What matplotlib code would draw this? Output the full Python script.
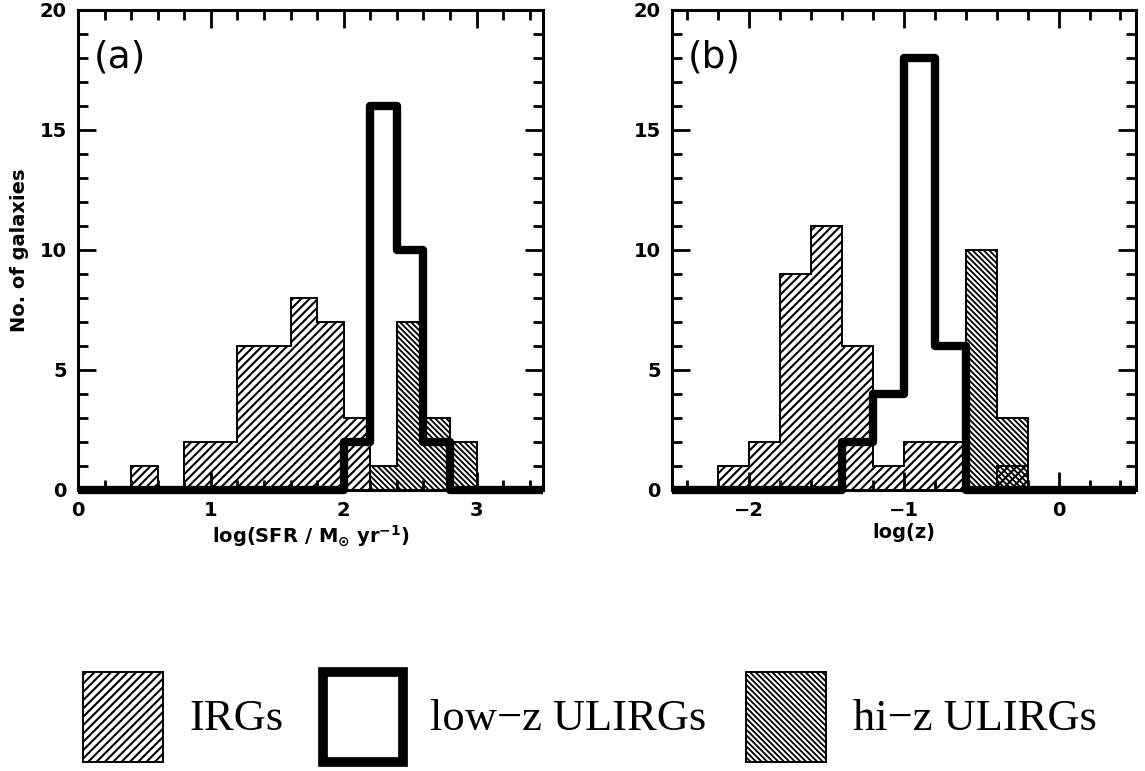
import matplotlib
matplotlib.use("Agg")
import matplotlib.pyplot as plt
from matplotlib.patches import Patch
from matplotlib.ticker import MultipleLocator

plt.rcParams['mathtext.default'] = 'bf'

# panel (a): log(SFR), bins of 0.2
irg_sfr_edges = [0.4, 0.6, 0.8, 1.0, 1.2, 1.4, 1.6, 1.8, 2.0, 2.2]
irg_sfr = [1, 0, 2, 2, 6, 6, 8, 7, 3]
hiz_sfr_edges = [2.2, 2.4, 2.6, 2.8, 3.0]
hiz_sfr = [1, 7, 3, 2]
lowz_sfr_edges = [0.0, 2.0, 2.2, 2.4, 2.6, 2.8, 3.5]
lowz_sfr = [0, 2, 16, 10, 2, 0]

# panel (b): log(z), bins of 0.2
irg_z_edges = [-2.2, -2.0, -1.8, -1.6, -1.4, -1.2, -1.0, -0.8, -0.6, -0.4, -0.2]
irg_z = [1, 2, 9, 11, 6, 1, 2, 2, 0, 1]
hiz_z_edges = [-0.6, -0.4, -0.2]
hiz_z = [10, 3]
lowz_z_edges = [-2.5, -1.4, -1.2, -1.0, -0.8, -0.6, 0.5]
lowz_z = [0, 2, 4, 18, 6, 0]

labels = ['IRGs', 'low\u2212z ULIRGs', 'hi\u2212z ULIRGs']

IRG_HATCH = '////'
HIZ_HATCH = '\\' * 6
IRG_HLW = 1.5
HIZ_HLW = 1.3


def set_hatch_lw(patch, lw):
    if hasattr(patch, 'set_hatch_linewidth'):
        patch.set_hatch_linewidth(lw)
    else:
        patch._hatch_linewidth = lw


fig = plt.figure(figsize=(11.45, 7.71), dpi=100)
ax1 = fig.add_axes([0.0681, 0.3645, 0.4061, 0.6226])
ax2 = fig.add_axes([0.5869, 0.3645, 0.4052, 0.6226])

panels = [
    (ax1, irg_sfr_edges, irg_sfr, hiz_sfr_edges, hiz_sfr, lowz_sfr_edges, lowz_sfr, (0, 3.5), '(a)'),
    (ax2, irg_z_edges, irg_z, hiz_z_edges, hiz_z, lowz_z_edges, lowz_z, (-2.5, 0.5), '(b)'),
]

for ax, ie, iv, he, hv, le, lv, xlim, tag in panels:
    p = ax.stairs(iv, ie, fill=True, facecolor='none', edgecolor='black',
                  hatch=IRG_HATCH, linewidth=1.4, zorder=2)
    set_hatch_lw(p, IRG_HLW)
    p = ax.stairs(hv, he, fill=True, facecolor='none', edgecolor='black',
                  hatch=HIZ_HATCH, linewidth=1.4, zorder=2)
    set_hatch_lw(p, HIZ_HLW)
    ax.stairs(lv, le, fill=False, color='black', linewidth=6,
              joinstyle='round', clip_on=False, zorder=3)
    ax.set_xlim(*xlim)
    ax.set_ylim(0, 20)
    ax.xaxis.set_major_locator(MultipleLocator(1))
    ax.xaxis.set_minor_locator(MultipleLocator(0.2))
    ax.yaxis.set_major_locator(MultipleLocator(5))
    ax.yaxis.set_minor_locator(MultipleLocator(1))
    ax.tick_params(which='both', direction='in', top=True, right=True, width=2)
    ax.tick_params(which='major', length=13, pad=8)
    ax.tick_params(which='minor', length=7)
    for lab in ax.get_xticklabels() + ax.get_yticklabels():
        lab.set_fontweight('bold')
        lab.set_fontsize(14)
    for sp in ax.spines.values():
        sp.set_linewidth(2.2)
    ax.text(0.035, 0.9, tag, transform=ax.transAxes, fontsize=27,
            ha='left', va='center')

ax1.set_xlabel(r'log(SFR / M$_{\odot}$ yr$^{-1}$)', fontsize=14,
               fontweight='bold', labelpad=2)
ax1.set_ylabel('No. of galaxies', fontsize=14, fontweight='bold', labelpad=8)
ax2.set_xlabel('log(z)', fontsize=14, fontweight='bold', labelpad=2)

handles = [
    Patch(facecolor='none', edgecolor='black', hatch=IRG_HATCH, linewidth=1.4),
    Patch(facecolor='none', edgecolor='black', linewidth=7),
    Patch(facecolor='none', edgecolor='black', hatch=HIZ_HATCH, linewidth=1.4),
]
leg = fig.legend(handles, labels, loc='center', bbox_to_anchor=(0.515, 0.07),
                 ncol=3, frameon=False,
                 prop=dict(family='Liberation Serif', size=32),
                 handlelength=1.8, handleheight=2.75, handletextpad=0.6,
                 columnspacing=0.9)
lp = leg.get_patches()
set_hatch_lw(lp[0], IRG_HLW)
set_hatch_lw(lp[2], HIZ_HLW)

fig.savefig('out.png', dpi=100)
